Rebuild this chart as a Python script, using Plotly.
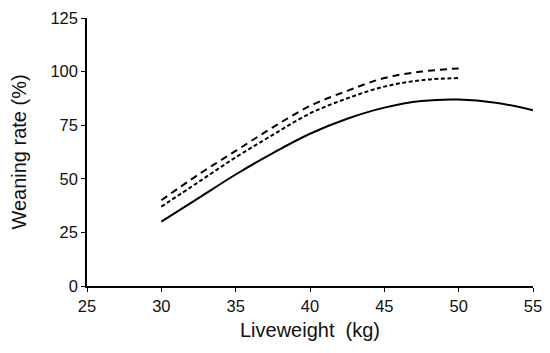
import plotly.graph_objects as go

x_solid = [30, 32.5, 35, 37.5, 40, 42.5, 45, 47.5, 50, 52.5, 55]
y_solid = [30, 41, 52, 62, 71, 78, 83.2, 86.3, 87, 85.5, 82]

x_dash = [30, 32.5, 35, 37.5, 40, 42.5, 45, 47.5, 50]
y_long_dash = [40, 52, 63, 74, 84, 91, 97, 100, 101.5]
y_short_dash = [37, 48.5, 60, 70.5, 80.5, 87.5, 93, 96, 97]

fig = go.Figure()
fig.add_trace(go.Scatter(x=x_solid, y=y_solid, mode="lines",
                         line=dict(color="black", width=2, shape="spline")))
fig.add_trace(go.Scatter(x=x_dash, y=y_long_dash, mode="lines",
                         line=dict(color="black", width=2, shape="spline", dash="7px,5px")))
fig.add_trace(go.Scatter(x=x_dash, y=y_short_dash, mode="lines",
                         line=dict(color="black", width=2, shape="spline", dash="4px,2.5px")))

font = dict(family="Liberation Sans, Arial", size=16.5, color="#111111")
fig.update_layout(
    width=550, height=353,
    margin=dict(l=79, r=25, t=10, b=75, autoexpand=False),
    paper_bgcolor="white", plot_bgcolor="white",
    showlegend=False,
    font=font,
    xaxis=dict(range=[25, 55], tickvals=[25, 30, 35, 40, 45, 50, 55],
               showgrid=False, zeroline=False, showline=True, linecolor="black",
               linewidth=1.5, ticks="outside", ticklen=4, tickcolor="black",
               automargin=False, ticklabeloverflow="allow",
               title=dict(text="Liveweight  (kg)", standoff=9), tickfont=font),
    yaxis=dict(range=[0, 125], tickvals=[0, 25, 50, 75, 100, 125],
               showgrid=False, zeroline=False, showline=True, linecolor="black",
               linewidth=1.5, ticks="outside", ticklen=4, tickcolor="black",
               automargin=False, ticklabeloverflow="allow",
               title=dict(text="Weaning rate (%)", standoff=19), tickfont=font),
)
fig.write_html("out.html")
